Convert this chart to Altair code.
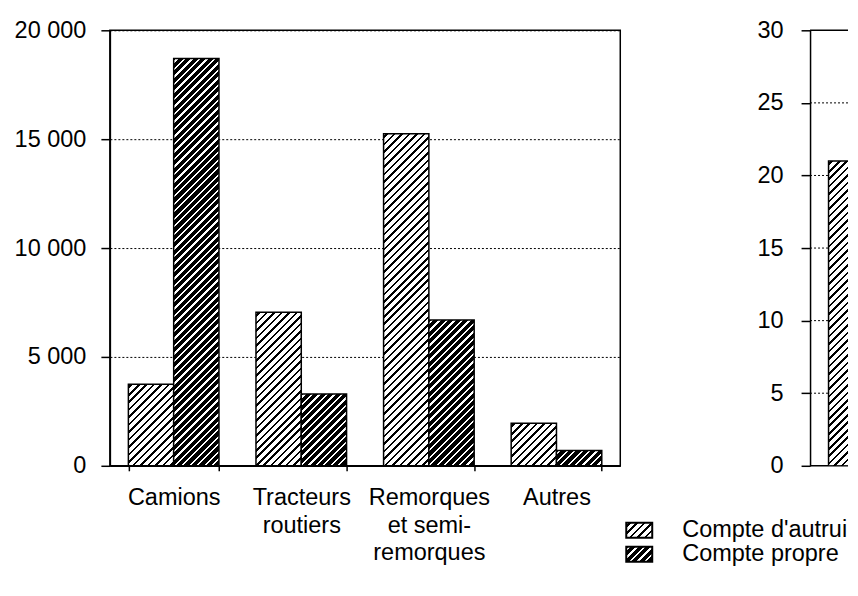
import math
import altair as alt
import pandas as pd

# ---------------- data ----------------
categories = ["Camions", "Tracteurs|routiers", "Remorques|et semi-|remorques", "Autres"]
series_names = ["Compte d'autrui", "Compte propre"]
autrui = [3750, 7050, 15250, 1950]
propre = [18700, 3300, 6700, 700]
left_ticks = [0, 5000, 10000, 15000, 20000]

right_cat = ["Camions"]
right_series = ["Compte d'autrui"]
right_values = [21]
right_ticks = [0, 5, 10, 15, 20, 25, 30]
right_grid = [5, 10, 15, 20, 25]
right_frame = [0, 30]

# ---------------- style ----------------
FONT = "Liberation Sans"
FS = 23.5
W, H = 511, 436
RW = 38
P_IN, P_OUT = 0.29, 0.145
PERIOD = 5.3
LEFT_MAX = 20000
RIGHT_MAX = 30

step = W / (len(categories) - P_IN + 2 * P_OUT)
bar_w = step * (1 - P_IN) / 2


def hatch(w, h, bg, fg, line):
    """diagonal '/' hatch as a hard-stop linear gradient sized to the bar"""
    L = (w + h) / math.sqrt(2)
    stops = [{"offset": 0, "color": bg}]
    k = 0
    while True:
        a = (k * PERIOD + PERIOD * 0.5 - line / 2) / L
        if a >= 1:
            break
        b = min(a + line / L, 1)
        a = max(a, 0)
        a, b = round(a, 5), round(b, 5)
        stops += [
            {"offset": a, "color": bg},
            {"offset": a, "color": fg},
            {"offset": b, "color": fg},
            {"offset": b, "color": bg},
        ]
        k += 1
    stops.append({"offset": 1, "color": bg})
    s = (w + h) / (w * w + h * h)
    return {"gradient": "linear", "x1": 0, "y1": 0,
            "x2": round(w * s, 6), "y2": round(h * s, 6), "stops": stops}


def light(w, h):
    return hatch(w, h, "#ffffff", "#000000", 1.8)


def dark(w, h):
    return hatch(w, h, "#000000", "#ffffff", 1.7)


rows = []
for c, a, p in zip(categories, autrui, propre):
    rows.append({"cat": c, "series": series_names[0], "value": a})
    rows.append({"cat": c, "series": series_names[1], "value": p})
df = pd.DataFrame(rows)

xscale = alt.Scale(domain=categories, paddingInner=P_IN, paddingOuter=P_OUT)
base = alt.Chart(df).encode(
    x=alt.X("cat:N", sort=categories, scale=xscale,
            axis=alt.Axis(title=None, labelAngle=0, tickBand="extent", tickSize=5,
                          labelPadding=15, labelOverlap=False, labelLineHeight=27.5,
                          labelExpr="split(datum.label, '|')")),
    xOffset=alt.XOffset("series:N", scale=alt.Scale(domain=series_names)),
    y=alt.Y("value:Q", scale=alt.Scale(domain=[0, LEFT_MAX]),
            axis=alt.Axis(title=None, values=left_ticks, tickSize=9, labelPadding=15,
                          grid=True, gridDash=[2, 2], gridColor="black", gridWidth=1,
                          labelExpr="replace(format(datum.value, ','), ',', ' ')")),
)

layers = []
for c, a, p in zip(categories, autrui, propre):
    for s, v, fn in ((series_names[0], a, light), (series_names[1], p, dark)):
        h = v / LEFT_MAX * H
        layers.append(
            base.transform_filter((alt.datum.cat == c) & (alt.datum.series == s))
            .mark_bar(fill=fn(bar_w, h), stroke="black", strokeWidth=1.5)
        )

# legend (manual, hatched swatches)
leg = pd.DataFrame({"series": series_names})
sw_w, sw_h = 26, 15
leg_pos = [(517, 493), (517, 517)]
for s, fn, (lx, ly) in zip(series_names, (light, dark), leg_pos):
    layers.append(
        alt.Chart(leg).transform_filter(alt.datum.series == s)
        .mark_rect(fill=fn(sw_w, sw_h), stroke="black", strokeWidth=2)
        .encode(x=alt.value(lx), x2=alt.value(lx + sw_w), y=alt.value(ly), y2=alt.value(ly + sw_h))
    )
    layers.append(
        alt.Chart(leg).transform_filter(alt.datum.series == s)
        .mark_text(align="left", baseline="middle", font=FONT, fontSize=FS, color="black")
        .encode(text="series:N", x=alt.value(573), y=alt.value(ly + sw_h / 2))
    )

left = alt.layer(*layers).properties(
    width=W, height=H,
    view=alt.ViewBackground(stroke="black", strokeWidth=1.5),
)

# ---------------- right panel (cut off by the page edge) ----------------
rdf = pd.DataFrame({"cat": right_cat, "series": right_series, "value": right_values})
rbar = alt.Chart(rdf).mark_bar(
    fill=light(bar_w, right_values[0] / RIGHT_MAX * H), stroke="black", strokeWidth=1.5, clip=True
).encode(
    x=alt.X("cat:N", scale=alt.Scale(domain=categories, range=[0, W],
                                     paddingInner=P_IN, paddingOuter=P_OUT), axis=None),
    xOffset=alt.XOffset("series:N", scale=alt.Scale(domain=series_names)),
    y=alt.Y("value:Q", scale=alt.Scale(domain=[0, RIGHT_MAX]),
            axis=alt.Axis(title=None, values=right_ticks, tickSize=9, labelPadding=18, grid=False)),
)
rgrid = alt.Chart(pd.DataFrame({"v": right_grid})).mark_rule(
    color="black", strokeWidth=1, strokeDash=[2, 2]
).encode(y="v:Q")
rframe = alt.Chart(pd.DataFrame({"v": right_frame})).mark_rule(
    color="black", strokeWidth=1.5
).encode(y="v:Q")

right = alt.layer(rgrid, rframe, rbar).properties(
    width=RW, height=H,
    view=alt.ViewBackground(stroke="transparent"),
)

chart = (
    alt.hconcat(left, right, spacing=190, bounds="flush")
    .properties(padding={"left": 5, "top": 9, "right": 0, "bottom": 4})
    .configure_axis(
        labelFont=FONT, labelFontSize=FS, labelColor="black",
        domainColor="black", domainWidth=1.5, tickColor="black", tickWidth=1.5,
    )
    .configure_view(stroke="black", strokeWidth=1.5)
)

chart.save("out.html", embed_options={"renderer": "svg", "actions": False})
